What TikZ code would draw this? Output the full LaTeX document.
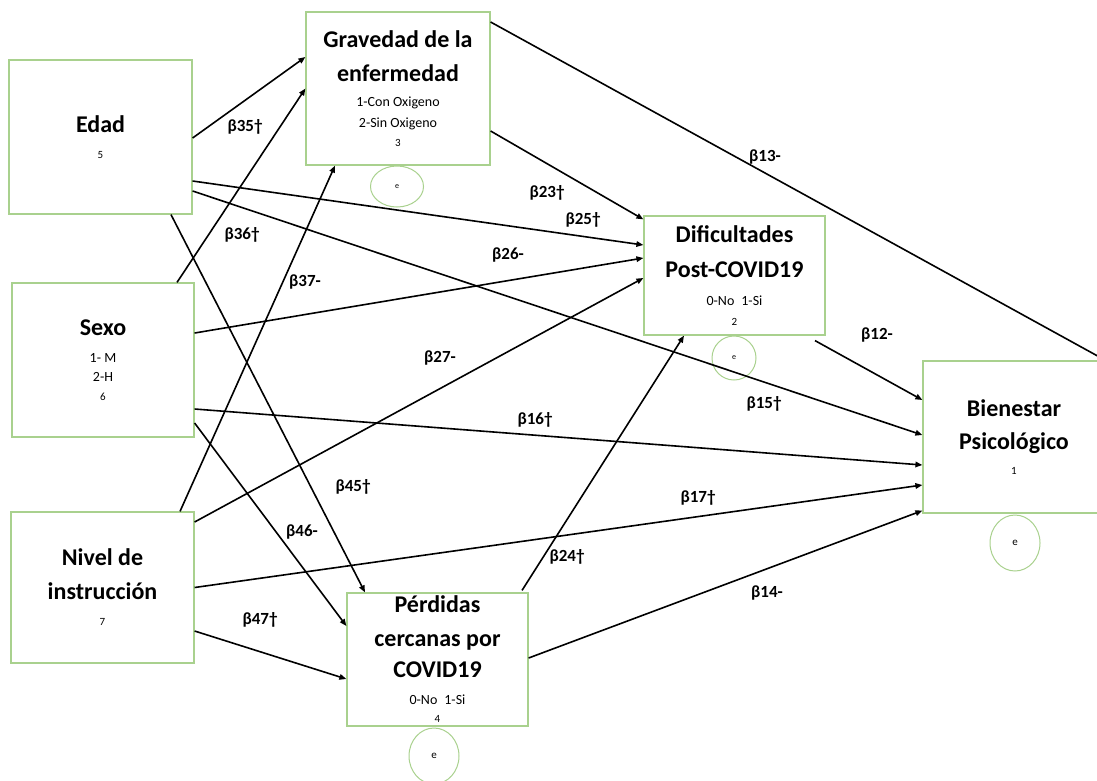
\documentclass[tikz,border=0pt]{standalone}
\usepackage{fontspec}
\setmainfont{Carlito}
\usepackage{tikz}
\usetikzlibrary{arrows.meta,shapes.geometric}
\definecolor{boxgreen}{RGB}{169,209,142}
\newcommand{\vartitle}{\fontsize{24}{33}\selectfont\bfseries}
\newcommand{\varsub}{\fontsize{14}{15}\selectfont\mdseries}
\newcommand{\varnum}{\fontsize{11}{12}\selectfont\mdseries}

\begin{document}
\begin{tikzpicture}[x=1pt,y=-1pt,
        var/.style={draw=boxgreen,line width=1.2pt,minimum width=182pt,
                    align=center,font=\vartitle,inner sep=0pt},
        err/.style={ellipse,draw=boxgreen,line width=1pt,inner sep=0pt,
                    font=\fontsize{8}{10}\selectfont},
        coef/.style={font=\fontsize{17}{20}\selectfont\bfseries,inner sep=1pt},
        arr/.style={-{Triangle[length=7pt,width=5.5pt]},line width=1.6pt},
      ]
  \useasboundingbox (0,0) rectangle (1097,780);
  % variables
  \node[var,minimum width=183pt,minimum height=154pt](edad) at (100.5,137){Edad\\[-7pt]{\varnum 5}};
  \node[var,minimum width=182pt,minimum height=154pt](sexo) at (103,360){Sexo\\[-6pt]{\varsub 1- M}\\[-14pt]{\varsub 2-H}\\[-14pt]{\varnum 6}};
  \node[var,minimum width=183pt,minimum height=151pt](nivel) at (102.5,587.5){Nivel de\\[1pt]instrucción\\[-7pt]{\varnum 7}};
  \node[var,minimum width=184pt,minimum height=153pt](grav) at (398,88.5){Gravedad de la\\[1pt]enfermedad\\[-8pt]{\varsub 1-Con Oxigeno}\\[-12pt]{\varsub 2-Sin Oxigeno}\\[-14pt]{\varnum 3}};
  \node[var,minimum width=181pt,minimum height=119pt](dif) at (734.5,275.5){Dificultades\\[2pt]Post-COVID19\\[-5pt]{\varsub 0-No\hspace{7pt}1-Si}\\[-13pt]{\varnum 2}};
  \node[var,minimum width=182pt,minimum height=152pt](bien) at (1014,437){Bienestar\\Psicológico\\[-8pt]{\varnum 1}};
  \node[var,minimum width=181pt,minimum height=133pt](perd) at (437.5,659.5){Pérdidas\\[1pt]cercanas por\\[-2pt]COVID19\\[-6pt]{\varsub 0-No\hspace{7pt}1-Si}\\[-15pt]{\varnum 4}};
  % error terms
  \node[err,minimum width=53pt,minimum height=41pt](egrav) at (397,186.5){e};
  \node[err,minimum width=44pt,minimum height=44pt](edif) at (734,358){e};
  \node[err,minimum width=50pt,minimum height=56pt,font=\fontsize{11}{13}\selectfont](ebien) at (1015,543){e};
  \node[err,minimum width=50pt,minimum height=56pt,font=\fontsize{11}{13}\selectfont](eperd) at (434,756){e};
  % paths
  \draw[arr]([yshift=-1pt]edad.east)--([yshift=31.5pt]grav.west);
  \draw[arr]([xshift=74pt]sexo.north)--(grav.west);
  \draw[arr]([xshift=77.5pt]nivel.north)--([xshift=-63pt]grav.south);
  \draw[arr]([yshift=-42.5pt]grav.east)--([yshift=-4pt]dif.north west);
  \draw[arr]([yshift=-44pt]edad.east)--([yshift=30.5pt]dif.west);
  \draw[arr]([yshift=27pt]sexo.east)--([yshift=17.5pt]dif.west);
  \draw[arr]([yshift=65.5pt]nivel.east)--([yshift=-2.5pt]dif.west);
  \draw[arr]([xshift=84.5pt,yshift=2pt]perd.north)--([xshift=-50.5pt]dif.south);
  \draw[arr]([yshift=66.5pt]grav.east)--(bien.north east);
  \draw[arr]([xshift=80.5pt,yshift=-5pt]dif.south)--([yshift=37pt]bien.west);
  \draw[arr]([yshift=-54pt]edad.east)--([yshift=2pt]bien.west);
  \draw[arr]([yshift=-49pt]sexo.east)--([yshift=-28pt]bien.west);
  \draw[arr](nivel.east)--([yshift=-48pt]bien.west);
  \draw[arr]([yshift=1.5pt]perd.east)--([yshift=3pt]bien.south west);
  \draw[arr]([xshift=70.5pt]edad.south)--([xshift=-72.5pt]perd.north);
  \draw[arr]([yshift=-63pt]sexo.east)--([yshift=33.5pt]perd.west);
  \draw[arr]([yshift=-43.5pt]nivel.east)--([yshift=-19.5pt]perd.west);
  % coefficients
  \node[coef](b35) at (245,127){β35†};
  \node[coef](b36) at (242,235){β36†};
  \node[coef](b37) at (305,282){β37-};
  \node[coef](b23) at (547,193){β23†};
  \node[coef](b25) at (583,220){β25†};
  \node[coef](b26) at (508,255){β26-};
  \node[coef](b27) at (440,358){β27-};
  \node[coef](b16) at (535,420){β16†};
  \node[coef](b45) at (353,487){β45†};
  \node[coef](b46) at (302,532){β46-};
  \node[coef](b47) at (260,620){β47†};
  \node[coef](b24) at (567,557){β24†};
  \node[coef](b17) at (698,498){β17†};
  \node[coef](b14) at (767,593){β14-};
  \node[coef](b15) at (764,404){β15†};
  \node[coef](b12) at (877,335){β12-};
  \node[coef](b13) at (765,157){β13-};
\end{tikzpicture}
\end{document}
